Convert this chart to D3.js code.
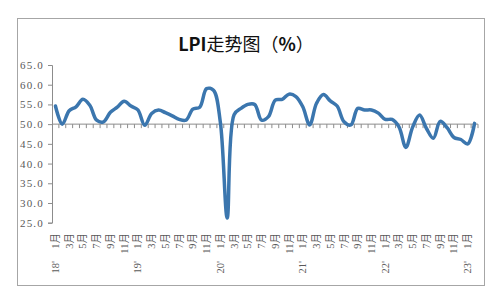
<!DOCTYPE html>
<html>
<head>
<meta charset="utf-8">
<script src="https://cdn.jsdelivr.net/npm/d3@7"></script>
<style>
  body { margin: 0; background: #fff; }
  svg text { font-family: "Liberation Serif", "DejaVu Serif", "Noto Sans CJK SC", serif; }
</style>
</head>
<body>
<div id="chart"></div>
<script>
// --------------- Data ---------------
const years = ["18", "19", "20", "21", "22", "23"];
const monthNames = ["1月", "2月", "3月", "4月", "5月", "6月", "7月", "8月", "9月", "10月", "11月", "12月"];
// LPI, Jan 2018 .. Feb 2023
const lpi = [
  54.6, 50.0, 53.4, 54.4, 56.3, 54.8, 51.0, 50.6, 53.0, 54.3, 55.8, 54.6,
  53.6, 49.7, 52.7, 53.6, 52.9, 52.1, 51.2, 51.0, 53.8, 54.3, 59.0, 58.6,
  50.5, 26.2, 52.4, 54.0, 55.0, 55.0, 51.0, 51.9, 56.1, 56.3, 57.6, 57.0,
  54.4, 49.8, 55.3, 57.5, 55.9, 54.6, 50.6, 49.8, 54.0, 53.6, 53.6, 52.8,
  51.2, 51.2, 49.3, 44.1, 49.3, 52.3, 48.9, 46.4, 50.7, 49.1, 46.6, 46.1,
  45.0, 50.2
];
const yTicks = [25, 30, 35, 40, 45, 50, 55, 60, 65];

// --------------- Constants ---------------
const W = 500, H = 300;
const PLOT = { left: 52, right: 478, top: 65, bottom: 222.7 };

const data = lpi.map((v, i) => ({
  i,
  year: years[Math.floor(i / 12)],
  month: monthNames[i % 12],
  value: v
}));

// --------------- Prep SVG ---------------
const svg = d3.select("#chart")
  .append("svg")
  .attr("width", W)
  .attr("height", H);

svg.append("rect")
  .attr("x", 17.5).attr("y", 18.5)
  .attr("width", 467).attr("height", 267)
  .attr("fill", "#fff")
  .attr("stroke", "#a6a6a6");

// title
const title = svg.append("text")
  .attr("x", 246).attr("y", 51)
  .attr("text-anchor", "middle")
  .attr("font-size", 18)
  .attr("fill", "#111")
  .style("font-family", "'Noto Sans CJK SC', 'Noto Sans', sans-serif");
title.append("tspan").attr("font-weight", "bold").text("LPI");
title.append("tspan").attr("font-weight", "normal").text("走势图（");
title.append("tspan").attr("font-weight", "bold").text("%");
title.append("tspan").attr("font-weight", "normal").text("）");

// --------------- Scales ---------------
const x = d3.scaleBand()
  .domain(data.map(d => d.i))
  .range([PLOT.left, PLOT.right]);

const y = d3.scaleLinear()
  .domain([25, 65])
  .range([PLOT.bottom, PLOT.top]);

const cx = i => x(i) + x.bandwidth() / 2;

// --------------- Y axis ---------------
const yAxis = svg.append("g")
  .attr("transform", `translate(${PLOT.left},0)`)
  .call(d3.axisLeft(y).tickValues(yTicks).tickSize(4).tickPadding(4).tickFormat(d3.format(".1f")));
yAxis.select(".domain").attr("stroke", "#8c8c8c");
yAxis.selectAll(".tick line").attr("stroke", "#8c8c8c");
yAxis.selectAll(".tick text")
  .attr("fill", "#595959")
  .attr("font-size", 11)
  .attr("letter-spacing", 1.2)
  .style("font-family", "'Liberation Serif', serif");

// --------------- X axis (crosses at 50) ---------------
const xAxisY = y(50);
svg.append("line")
  .attr("x1", PLOT.left).attr("x2", PLOT.right)
  .attr("y1", xAxisY).attr("y2", xAxisY)
  .attr("stroke", "#8c8c8c");

const bounds = d3.range(1, data.length + 1).map(k => PLOT.left + k * x.step());
svg.append("g")
  .selectAll("line")
  .data(bounds)
  .join("line")
  .attr("x1", d => d).attr("x2", d => d)
  .attr("y1", xAxisY).attr("y2", xAxisY + 4)
  .attr("stroke", "#8c8c8c");

// month labels, every second month
svg.append("g")
  .selectAll("text")
  .data(data.filter(d => d.i % 2 === 0))
  .join("text")
  .attr("transform", d => `translate(${cx(d.i) + 3.5},233) rotate(-90)`)
  .attr("text-anchor", "end")
  .attr("font-size", 10.5)
  .attr("fill", "#595959")
  .text(d => d.month);

// year labels
svg.append("g")
  .selectAll("text")
  .data(data.filter(d => d.i % 12 === 0))
  .join("text")
  .attr("transform", d => `translate(${cx(d.i) + 3.5},261) rotate(-90)`)
  .attr("text-anchor", "end")
  .attr("font-size", 10.5)
  .attr("fill", "#595959")
  .text(d => d.year + "'");

// --------------- Line ---------------
const line = d3.line()
  .x(d => cx(d.i))
  .y(d => y(d.value))
  .curve(d3.curveCatmullRom.alpha(0.5));

svg.append("path")
  .datum(data)
  .attr("d", line)
  .attr("fill", "none")
  .attr("stroke", "#3b76ae")
  .attr("stroke-width", 3.5)
  .attr("stroke-linejoin", "round")
  .attr("stroke-linecap", "round");
</script>
</body>
</html>
